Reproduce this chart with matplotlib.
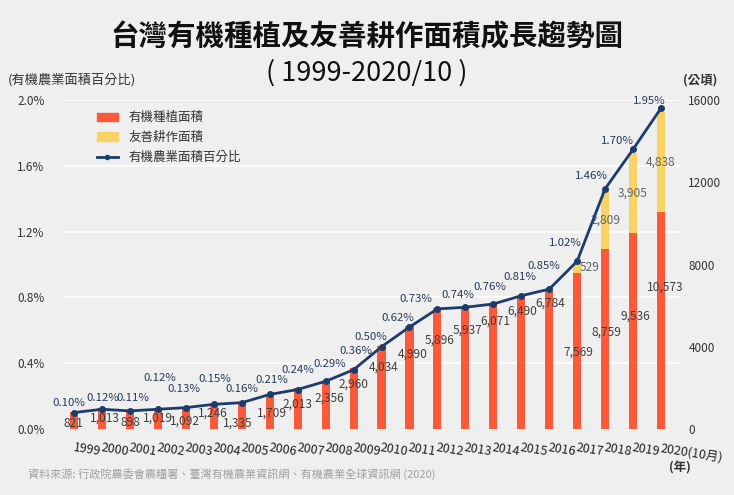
import numpy as np
import matplotlib
matplotlib.use("Agg")
from matplotlib import pyplot as plt
from matplotlib.patches import Patch
from matplotlib.lines import Line2D

plt.rcParams['font.family'] = ['Noto Sans CJK TC', 'DejaVu Sans']

years = ['1999', '2000', '2001', '2002', '2003', '2004', '2005', '2006', '2007', '2008', '2009',
         '2010', '2011', '2012', '2013', '2014', '2015', '2016', '2017', '2018', '2019', '2020(10月)']
organic = [821, 1013, 898, 1019, 1092, 1246, 1335, 1709, 2013, 2356, 2960,
           4034, 4990, 5896, 5937, 6071, 6490, 6784, 7569, 8759, 9536, 10573]
friendly = [0, 0, 0, 0, 0, 0, 0, 0, 0, 0, 0,
            0, 0, 0, 0, 0, 0, 0, 529, 2809, 3905, 4838]
share_pct = [0.10, 0.12, 0.11, 0.12, 0.13, 0.15, 0.16, 0.21, 0.24, 0.29, 0.36,
             0.50, 0.62, 0.73, 0.74, 0.76, 0.81, 0.85, 1.02, 1.46, 1.70, 1.95]
pct_ticks = [0, 0.4, 0.8, 1.2, 1.6, 2.0]
area_ticks = [0, 4000, 8000, 12000, 16000]

# label nudges (pixels) so the labels sit roughly where the original put them
bar_lbl_dy = [-11, -10, -12, -10, -15, -10, -22, -19, -17, -18, -16,
              -21, -28, -32, -23, -17, -16, -14, -79, -83, -83, -76]
bar_lbl_dx = [-1, 3, 0, 0, -1, -1, -4, 2, 0, 4, 0,
              2, 3, 2, 2, 2, 1, 1, 1, 1, 2, 4]
pct_lbl_dy = [10, 11, 13, 31, 19, 25, 14, 14, 20, 17, 19,
              10, 9, 10, 12, 17, 19, 23, 18, 13, 8, 7]
pct_lbl_dx = [-5, 1, 3, 2, -2, 1, 0, 2, 0, 4, 2,
              -11, -12, -22, -7, -3, -1, -5, -12, -14, -16, -12]

bg = '#efefef'
red = '#fa5a3a'
yellow = '#f8d262'
navy = '#1c3c6e'
px = 0.72  # points per pixel at 100 dpi

x = np.arange(len(years))
fig = plt.figure(figsize=(7.34, 4.95), dpi=100)
fig.patch.set_facecolor(bg)

ax = fig.add_axes([64 / 734, 66 / 495, 616 / 734, 329 / 495])
ax2 = ax.twinx()
ax.set_facecolor(bg)
ax2.patch.set_visible(False)

# bars (area, right axis)
ax.bar(x, organic, width=0.29, color=red, zorder=2)
ax.bar(x, friendly, width=0.29, bottom=organic, color=yellow, zorder=2)
ax.set_xlim(-0.36, 21.68)
ax.set_ylim(0, 16000)
ax.set_yticks(area_ticks)
ax.yaxis.tick_right()
ax.tick_params(axis='y', length=0, pad=6, labelsize=8.5, labelcolor='#333333')
# gridlines follow the percent axis, drawn behind the bars
for v in pct_ticks[1:]:
    ax.axhline(v / 2.0 * 16000, color='white', linewidth=1.2, zorder=0)
for s in ax.spines.values():
    s.set_visible(False)
ax.axhline(0, color='#d6d6d6', linewidth=1, zorder=1)

ax.set_xticks(x)
ax.set_xticklabels(years, rotation=-9, ha='left', rotation_mode='anchor',
                   style='italic', fontsize=9, color='#222222')
ax.tick_params(axis='x', length=0, pad=9)

for i in range(len(years)):
    ax.annotate(f'{organic[i]:,}', (x[i], organic[i]),
                xytext=(bar_lbl_dx[i] * px, bar_lbl_dy[i] * px),
                textcoords='offset points', ha='center', va='center',
                fontsize=8.6, color='#404040', zorder=5)
    if friendly[i] > 0:
        ax.annotate(f'{friendly[i]:,}', (x[i], organic[i] + friendly[i] / 2),
                    xytext=(9 if friendly[i] < 1000 else 0, 0), textcoords='offset points',
                    ha='center', va='center', fontsize=8.6, color='#666666', zorder=5)

# percentage line (left axis)
ax2.plot(x, share_pct, color=navy, linewidth=2, marker='o', markersize=4, zorder=3)
ax2.set_ylim(0, 2.0)
ax2.set_yticks(pct_ticks)
ax2.set_yticklabels([f'{v:.1f}%' for v in pct_ticks])
ax2.yaxis.tick_left()
ax2.tick_params(axis='y', length=0, pad=14, labelsize=8.5, labelcolor='#333333')
for s in ax2.spines.values():
    s.set_visible(False)
for i in range(len(years)):
    ax2.annotate(f'{share_pct[i]:.2f}%', (x[i], share_pct[i]),
                 xytext=(pct_lbl_dx[i] * px, pct_lbl_dy[i] * px),
                 textcoords='offset points', ha='center', va='center',
                 fontsize=8.2, color='#2a3a5c')

handles = [Patch(color=red), Patch(color=yellow),
           Line2D([0], [0], color=navy, linewidth=2, marker='o', markersize=3)]
ax2.legend(handles, ['有機種植面積', '友善耕作面積', '有機農業面積百分比'],
           loc='upper left', bbox_to_anchor=(0.035, 1.0), frameon=False,
           fontsize=9, handlelength=1.7, handleheight=0.7, labelspacing=0.55,
           handletextpad=0.8, labelcolor='#333333')

fig.text(0.5, 0.925, '台灣有機種植及友善耕作面積成長趨勢圖', ha='center', va='center',
         fontsize=20.5, fontweight='bold', color='#111111')
fig.text(0.5, 0.852, '( 1999-2020/10 )', ha='center', va='center',
         fontsize=19.5, fontweight='medium', color='#111111')
fig.text(8 / 734, 1 - 80 / 495, '(有機農業面積百分比)', ha='left', va='center',
         fontsize=9.5, color='#333333')
fig.text(700 / 734, 1 - 80 / 495, '(公頃)', ha='center', va='center',
         fontsize=9, fontweight='bold', color='#333333')
fig.text(680 / 734, 1 - 468 / 495, '(年)', ha='center', va='center',
         fontsize=9, fontweight='bold', color='#333333')
fig.text(28 / 734, 1 - 474 / 495,
         '資料來源: 行政院農委會農糧署、臺灣有機農業資訊網、有機農業全球資訊網 (2020)',
         ha='left', va='center', fontsize=8, color='#a0a0a0')

fig.savefig('out.png', dpi=100, facecolor=bg)
